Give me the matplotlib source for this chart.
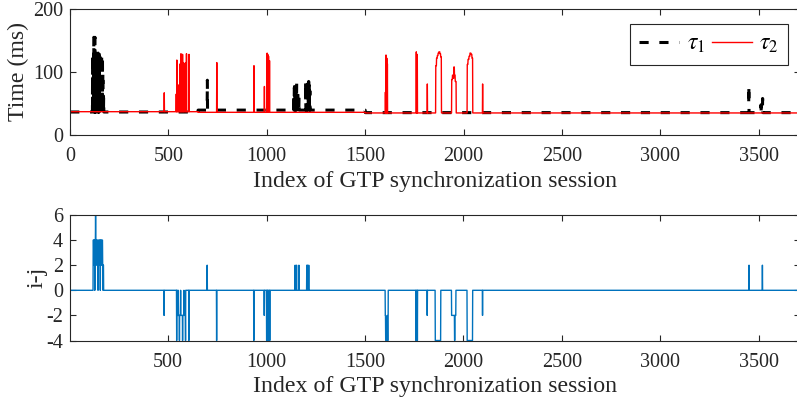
import numpy as np
import matplotlib
matplotlib.use('Agg')
import matplotlib.pyplot as plt

plt.rcParams['font.family'] = ['Liberation Serif', 'DejaVu Serif']
plt.rcParams['mathtext.fontset'] = 'stix'
plt.rcParams['axes.unicode_minus'] = False

N_SESSIONS = 3710

# baselines (start, end, level) in ms
TAU1_BASE = [(1, 650, 36.5), (651, 1500, 39.5), (1501, N_SESSIONS, 35.5)]
TAU2_BASE = [(1, 650, 37.0), (651, 1500, 36.0), (1501, N_SESSIONS, 35.0)]

# elevated runs (start, end, value) in ms
TAU1_RUNS = [
    (115, 115, 125), (117, 117, 130), (119, 119, 100), (121, 121, 155), (123, 123, 130),
    (125, 125, 60), (127, 127, 155), (129, 129, 120), (131, 131, 130), (133, 133, 90),
    (135, 135, 128), (137, 137, 70), (139, 139, 130), (141, 141, 110), (143, 143, 130),
    (145, 145, 55), (147, 147, 125), (149, 149, 130), (151, 151, 95), (153, 153, 130),
    (155, 155, 118), (157, 157, 130), (159, 159, 100), (161, 161, 128), (163, 163, 75),
    (165, 165, 125), (167, 167, 100), (169, 169, 70), (171, 171, 60),
    (698, 698, 87),
    (1137, 1137, 62), (1140, 1140, 75), (1143, 1143, 82), (1147, 1147, 84), (1152, 1152, 82),
    (1158, 1158, 70), (1164, 1164, 60),
    (1198, 1198, 85), (1201, 1201, 86), (1204, 1204, 84), (1207, 1207, 86), (1210, 1210, 82),
    (1213, 1213, 85), (1216, 1216, 80), (1219, 1219, 70),
    (3450, 3450, 79), (3512, 3512, 48), (3520, 3520, 58),
]

TAU2_RUNS = [
    (479, 479, 67), (540, 540, 65), (543, 543, 119), (546, 547, 80), (550, 550, 68),
    (556, 556, 80), (560, 560, 113), (564, 564, 129), (568, 568, 113), (572, 572, 128),
    (576, 576, 115), (580, 580, 114), (588, 588, 115), (592, 592, 129), (605, 605, 128),
    (746, 746, 115), (935, 935, 110), (988, 988, 77),
    (1002, 1002, 130), (1005, 1005, 128), (1009, 1009, 125), (1014, 1014, 118),
    (1603, 1603, 68), (1606, 1606, 127), (1610, 1610, 122), (1613, 1613, 113),
    (1760, 1760, 132), (1765, 1765, 128), (1816, 1816, 81),
    (1859, 1862, 110), (1863, 1866, 122), (1867, 1870, 126), (1871, 1874, 130),
    (1875, 1879, 132), (1880, 1883, 129), (1884, 1887, 124),
    (1940, 1943, 88), (1944, 1947, 95), (1948, 1950, 90), (1951, 1953, 108),
    (1954, 1957, 95), (1958, 1962, 85),
    (2019, 2022, 112), (2023, 2027, 120), (2028, 2032, 125), (2033, 2037, 130),
    (2038, 2042, 128), (2043, 2046, 122),
    (2097, 2097, 81),
]

# i-j, zero except these runs (start, end, value)
DIFF_RUNS = [
    (119, 121, 4), (122, 122, 2), (123, 126, 4), (127, 127, 0), (128, 130, 4), (131, 131, 6),
    (132, 135, 4), (136, 137, 2), (138, 141, 4), (142, 142, 2), (143, 144, 0), (145, 148, 4),
    (149, 150, 2), (151, 154, 4), (155, 155, 0), (156, 160, 4), (161, 162, 2), (163, 166, 4),
    (167, 168, 2), (169, 169, 0), (170, 171, 2),
    (479, 479, -2),
    (543, 543, -4), (547, 550, -2), (551, 551, 0), (552, 556, -2), (557, 557, -4),
    (558, 562, -2), (563, 563, 0), (564, 572, -2), (573, 573, -4), (574, 579, -2),
    (580, 580, 0), (581, 587, -2), (588, 588, -4), (605, 605, -4),
    (698, 698, 2), (746, 746, -4), (935, 935, -4), (988, 988, -2),
    (1000, 1001, -4), (1005, 1005, -4), (1010, 1012, -4), (1016, 1016, -4),
    (1145, 1145, 2), (1152, 1152, 2), (1164, 1164, 2),
    (1204, 1204, 2), (1208, 1208, 2), (1214, 1214, 2),
    (1603, 1604, -2), (1605, 1612, -4), (1613, 1613, -2), (1614, 1617, -4),
    (1759, 1759, -4), (1766, 1766, -4), (1816, 1816, -2),
    (1857, 1884, -4),
    (1940, 1954, -2), (1955, 1956, -4), (1957, 1961, -2),
    (2019, 2046, -4),
    (2097, 2097, -2),
    (3451, 3451, 2), (3519, 3519, 2),
]


def build_series(base, runs):
    y = np.zeros(N_SESSIONS)
    for a, b, v in base:
        y[a - 1:b] = v
    for a, b, v in runs:
        y[a - 1:b] = v
    return y


idx = np.arange(1, N_SESSIONS + 1)
tau1 = build_series(TAU1_BASE, TAU1_RUNS)
tau2 = build_series(TAU2_BASE, TAU2_RUNS)
diff = build_series([], DIFF_RUNS)

axis_col = '#262626'
tick_fs = 14.5
label_fs = 17.2


def style_axes(ax):
    for s in ax.spines.values():
        s.set_color(axis_col)
        s.set_linewidth(0.8)
    ax.tick_params(direction='in', length=4, width=0.8, colors=axis_col,
                   labelsize=tick_fs, top=True, right=True)
    ax.tick_params(axis='x', pad=9)
    ax.tick_params(axis='y', pad=5)


fig = plt.figure(figsize=(7.97, 4.05), dpi=100)

# axes run slightly past the right edge of the figure, as in the original
ax1 = fig.add_axes([70 / 797, 1 - 135 / 405, 730 / 797, 126 / 405])
ax1.plot(idx, tau1, color='black', linewidth=2.2, linestyle=(0, (3, 3.5)), label=r'$\tau_1$')
ax1.plot(idx, tau2, color='red', linewidth=1.0, label=r'$\tau_2$')
ax1.set_xlim(0, N_SESSIONS)
ax1.set_ylim(0, 200)
ax1.set_xticks(np.arange(0, 3501, 500))
ax1.set_yticks([0, 100, 200])
ax1.set_xlabel('Index of GTP synchronization session', fontsize=label_fs, color=axis_col, labelpad=3)
ax1.set_ylabel('Time (ms)', fontsize=label_fs, color=axis_col, labelpad=3)
style_axes(ax1)
leg = ax1.legend(loc='upper right', bbox_to_anchor=(718 / 730, 111 / 126), borderaxespad=0,
                 ncol=2, fontsize=17, frameon=True, fancybox=False, framealpha=1,
                 handlelength=1.7, columnspacing=0.3, handletextpad=0.3, borderpad=0.4)
leg.get_frame().set_edgecolor(axis_col)
leg.get_frame().set_linewidth(0.8)

ax2 = fig.add_axes([70 / 797, 1 - 340.5 / 405, 730 / 797, 125.5 / 405])
ax2.plot(idx, diff, color='#0072BD', linewidth=1.0)
ax2.set_xlim(1, N_SESSIONS)
ax2.set_ylim(-4, 6)
ax2.set_xticks(np.arange(500, 3501, 500))
ax2.set_yticks(np.arange(-4, 7, 2))
ax2.set_xlabel('Index of GTP synchronization session', fontsize=label_fs, color=axis_col, labelpad=3)
ax2.set_ylabel('i-j', fontsize=label_fs, color=axis_col, labelpad=-1)
style_axes(ax2)

fig.savefig('out.png', dpi=100)
